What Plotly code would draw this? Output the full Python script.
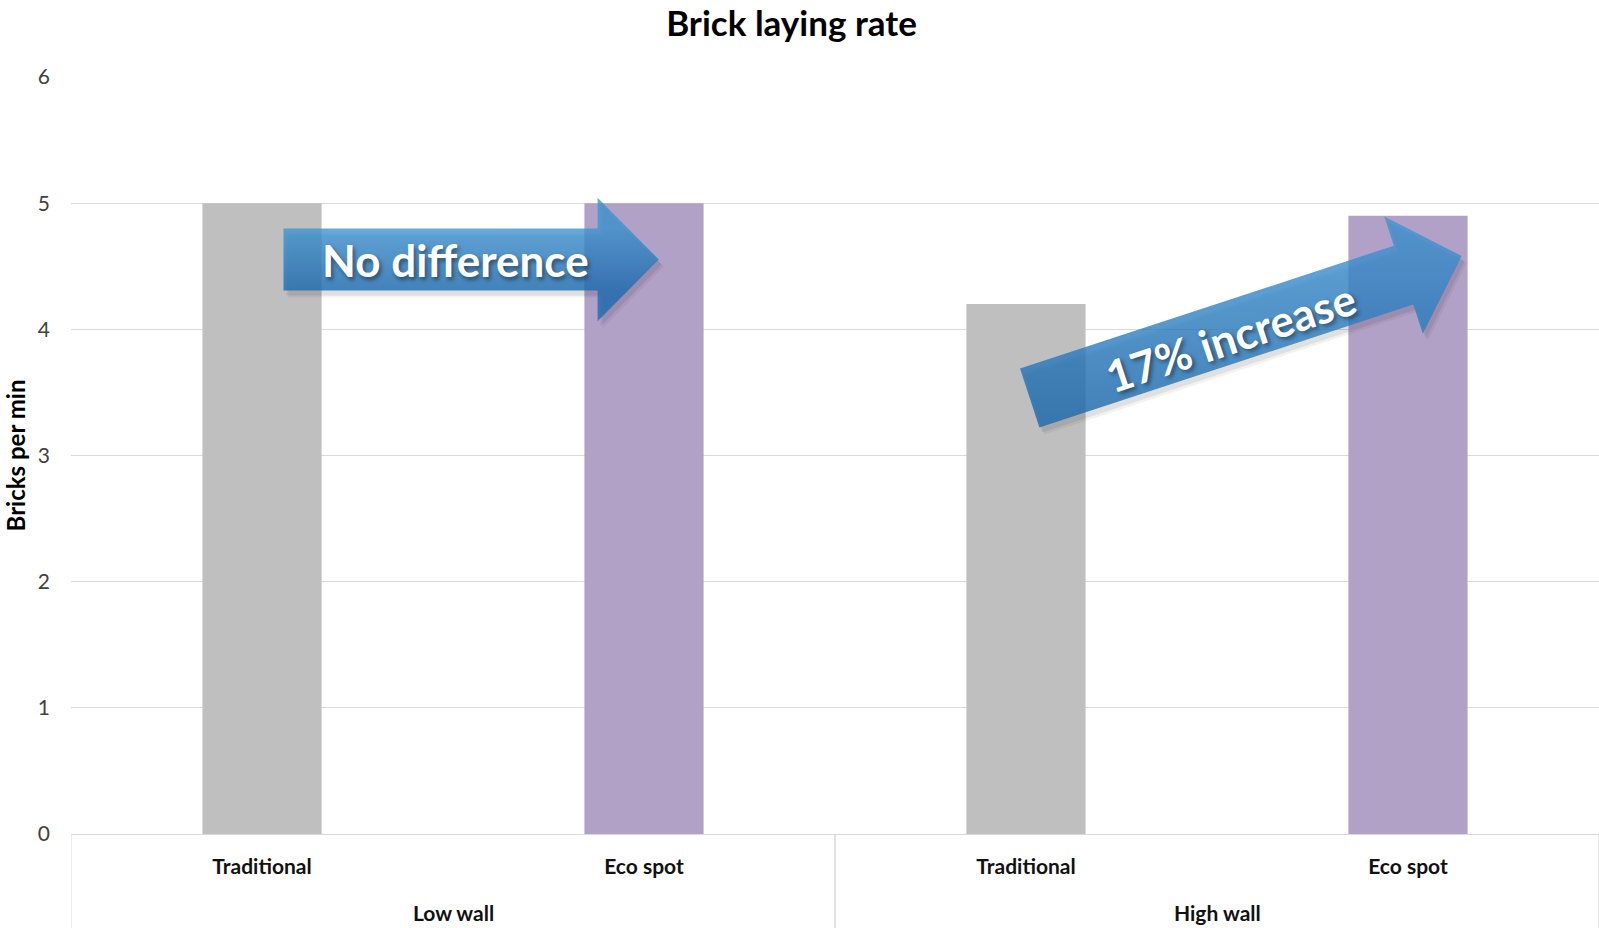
import math
import plotly.graph_objects as go

# ---- data -------------------------------------------------------------
walls = ["Low wall", "Low wall", "High wall", "High wall"]
methods = ["Traditional", "Eco spot", "Traditional", "Eco spot"]
rates = [5.0, 5.0, 4.2, 4.9]
bar_colors = ["#bfbfbf", "#b1a1c7", "#bfbfbf", "#b1a1c7"]
y_ticks = [0, 1, 2, 3, 4, 5, 6]

# ---- layout geometry (pixels) ------------------------------------------
W, H = 1599, 928
M_L, M_R, M_T, M_B = 71, 0, 77, 94
PW, PH = W - M_L - M_R, H - M_T - M_B

FONT = "Lato"
GRID = "#d9d9d9"

positions = list(range(len(methods)))


def arrow_path(tail, tip, shaft_half=31.0, head_half=61.7, head_len=61.2):
    """Block-arrow outline in overlay pixel units (y up)."""
    dx, dy = tip[0] - tail[0], tip[1] - tail[1]
    L = math.hypot(dx, dy)
    ux, uy = dx / L, dy / L
    nx, ny = -uy, ux
    bx, by = tip[0] - ux * head_len, tip[1] - uy * head_len
    pts = [
        (tail[0] + nx * shaft_half, tail[1] + ny * shaft_half),
        (bx + nx * shaft_half, by + ny * shaft_half),
        (bx + nx * head_half, by + ny * head_half),
        tip,
        (bx - nx * head_half, by - ny * head_half),
        (bx - nx * shaft_half, by - ny * shaft_half),
        (tail[0] - nx * shaft_half, tail[1] - ny * shaft_half),
    ]
    pts.append(pts[0])
    return [p[0] for p in pts], [p[1] for p in pts]


fig = go.Figure()

fig.add_trace(go.Bar(
    x=positions,
    y=rates,
    width=0.312,
    marker=dict(color=bar_colors, line=dict(width=0)),
    hoverinfo="skip",
    showlegend=False,
))

# callout arrows, drawn on an overlay with 1 unit = 1 pixel
arrows = [
    dict(tail=(212.5, 574.5), tip=(587.8, 574.5), text="No difference",
         label_at=(384.0, 574.5), angle=0, g0=543.0, g1=606.0),
    dict(tail=(958.7, 436.0), tip=(1390.7, 578.0), text="17% increase",
         label_at=(1159.0, 497.0), angle=-18.2, g0=415.0, g1=610.0),
]

for a in arrows:
    xs, ys = arrow_path(a["tail"], a["tip"])
    # soft drop shadow
    for off, alpha in [((5, -7), 0.05), ((3, -5), 0.07)]:
        fig.add_trace(go.Scatter(
            x=[v + off[0] for v in xs], y=[v + off[1] for v in ys],
            xaxis="x2", yaxis="y2", mode="lines", fill="toself",
            line=dict(width=0), fillcolor=f"rgba(0,0,0,{alpha})",
            hoverinfo="skip", showlegend=False,
        ))
    fig.add_trace(go.Scatter(
        x=xs, y=ys, xaxis="x2", yaxis="y2", mode="lines", fill="toself",
        line=dict(width=0),
        fillgradient=dict(
            type="vertical",
            start=a["g0"], stop=a["g1"],
            colorscale=[[0, "rgba(28,106,176,0.80)"], [1, "rgba(64,148,210,0.80)"]],
        ),
        hoverinfo="skip", showlegend=False,
    ))
    fig.add_annotation(
        x=a["label_at"][0], y=a["label_at"][1], xref="x2", yref="y2",
        text=a["text"], showarrow=False, textangle=a["angle"],
        xanchor="center", yanchor="middle",
        font=dict(family=FONT, size=44, color="white", weight="bold",
                  shadow="2px 3px 4px rgba(0,0,0,0.45)"),
    )

# group labels under the method labels, with dividers between groups
groups = []
for i, w in enumerate(walls):
    if not groups or groups[-1][0] != w:
        groups.append([w, i, i])
    else:
        groups[-1][2] = i

below = -M_B / PH
for name, first, last in groups:
    fig.add_annotation(
        x=(first + last) / 2, y=below + 16 / PH, xref="x", yref="paper",
        text=name, showarrow=False, xanchor="center", yanchor="middle",
        font=dict(family=FONT, size=21, color="#111111", weight="bold"),
    )
    for edge in (first - 0.5, last + 0.5):
        fig.add_shape(type="line", xref="x", yref="paper",
                      x0=edge, x1=edge, y0=0, y1=below,
                      line=dict(color=GRID, width=1), layer="below")

fig.update_layout(
    width=W, height=H,
    margin=dict(l=M_L, r=M_R, t=M_T, b=M_B, autoexpand=False),
    paper_bgcolor="white", plot_bgcolor="white",
    title=dict(text="Brick laying rate", x=0.495, xref="container", xanchor="center",
               y=1 - 24 / H, yref="container", yanchor="middle",
               font=dict(family=FONT, size=35, color="#000000", weight="bold")),
    xaxis=dict(
        range=[-0.5, len(methods) - 0.5], tickvals=positions, ticktext=methods,
        showgrid=False, zeroline=False, showline=True, linecolor=GRID, linewidth=1,
        ticks="", ticklabelstandoff=14,
        tickfont=dict(family=FONT, size=21, color="#111111", weight="bold"),
        automargin=False,
    ),
    yaxis=dict(
        range=[0, 6], tickvals=y_ticks, showgrid=True, gridcolor=GRID, gridwidth=1,
        zeroline=False, showline=False, ticks="", ticklabelstandoff=20,
        tickfont=dict(family=FONT, size=21, color="#404040"),
        title=dict(text="Bricks per min", standoff=5,
                   font=dict(family=FONT, size=24, color="#000000", weight="bold")),
        automargin=False,
    ),
    xaxis2=dict(overlaying="x", range=[0, PW], visible=False, fixedrange=True),
    yaxis2=dict(overlaying="y", range=[0, PH], visible=False, fixedrange=True),
)

fig.write_html("out.html")
